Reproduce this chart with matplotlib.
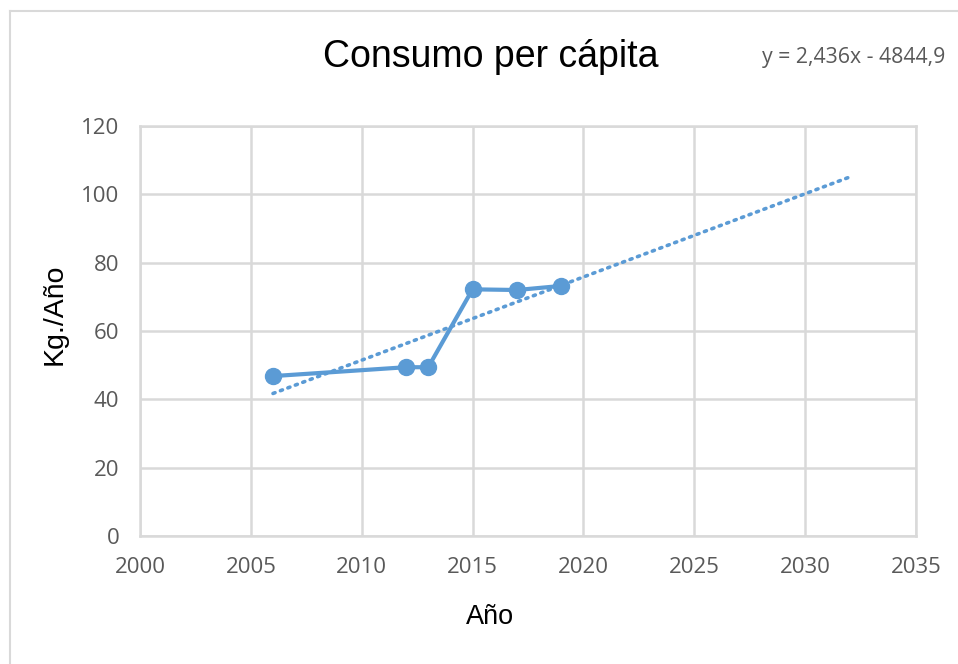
import matplotlib
matplotlib.use("Agg")
from matplotlib import pyplot as plt
from matplotlib.lines import Line2D
import numpy as np

# data
years = [2006, 2012, 2013, 2015, 2017, 2019]
consumo = [46.8, 49.4, 49.4, 72.2, 72.0, 73.2]
# linear trendline shown on the chart: y = 2,436x - 4844,9
slope = 2.436
intercept = -4844.9
trendRange = [2006, 2032]
xTicks = [2000, 2005, 2010, 2015, 2020, 2025, 2030, 2035]
yTicks = [0, 20, 40, 60, 80, 100, 120]

blue = '#5b9bd5'
grid = '#d9d9d9'
tickGray = '#595959'

fig = plt.figure(figsize=(9.58, 6.64), dpi=100)
ax = fig.add_axes([0.1461, 0.1928, 0.8101, 0.6174])

trendX = np.array(trendRange)
ax.plot(trendX, slope * trendX + intercept, color=blue, lw=2.6,
        linestyle=(0, (0.6, 1.6)), dash_capstyle='round', zorder=3)
ax.plot(years, consumo, color=blue, lw=3, marker='o', markersize=11.5, zorder=4)

ax.set_xlim(2000, 2035)
ax.set_ylim(0, 120)
ax.set_xticks(xTicks)
ax.set_yticks(yTicks)
ax.grid(True, color=grid, lw=1.8)
ax.set_axisbelow(True)
for s in ax.spines.values():
  s.set_color(grid)
  s.set_linewidth(1.8)
ax.tick_params(length=0, labelsize=16, labelcolor=tickGray)
ax.tick_params(axis='x', pad=15)
ax.tick_params(axis='y', pad=15)
for lab in ax.get_xticklabels() + ax.get_yticklabels():
  lab.set_family('Open Sans')

fig.text(0.512, 0.914, 'Consumo per cápita', ha='center', va='center',
         family='Liberation Sans', fontsize=27)
fig.text(0.795, 0.913, 'y = 2,436x - 4844,9', ha='left', va='center',
         family='Open Sans', fontsize=15.3, color=tickGray)
fig.text(0.512, 0.071, 'Año', ha='center', va='center',
         family='Liberation Sans', fontsize=19.5)
fig.text(0.057, 0.526, 'Kg./Año', ha='center', va='center', rotation=90,
         family='Liberation Sans', fontsize=20.5)

# outer chart border (top and left edges visible)
fig.add_artist(Line2D([9.5 / 958, 1], [1 - 10.5 / 664, 1 - 10.5 / 664],
                      transform=fig.transFigure, color=grid, lw=1.5))
fig.add_artist(Line2D([9.5 / 958, 9.5 / 958], [0, 1 - 10.5 / 664],
                      transform=fig.transFigure, color=grid, lw=1.5))

fig.savefig('out.png', dpi=100)
